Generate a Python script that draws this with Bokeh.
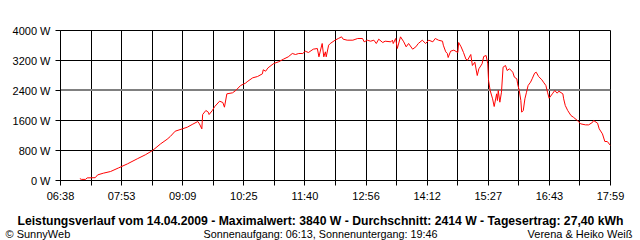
from bokeh.plotting import figure
from bokeh.layouts import column
from bokeh.models import FixedTicker, CustomJSTickFormatter, Span, Range1d
from bokeh.core.properties import value
from bokeh.embed import file_html
from bokeh.resources import INLINE

# ---- data (minutes after midnight, power in W) ----
minutes = [422, 424, 429, 431, 441, 444, 451, 460, 470, 481, 493, 503, 512, 522, 530, 534,
           540, 549, 555, 561, 568, 570, 573, 574, 578, 581, 582, 586, 589, 595, 599, 601,
           604, 611, 615, 621, 627, 630, 636, 642, 648, 649, 652, 655, 662, 668, 674, 680,
           685, 689, 693, 698, 701, 705, 711, 716, 718, 720, 722, 724, 726, 727, 730, 732,
           738, 742, 746, 748, 753, 760, 766, 772, 774, 778, 782, 786, 789, 792, 797, 800,
           807, 809, 810, 813, 815, 819, 823, 826, 829, 834, 838, 841, 846, 850, 854, 859,
           862, 866, 871, 872, 875, 877, 878, 881, 885, 890, 891, 894, 897, 900, 902, 906,
           908, 911, 914, 916, 920, 922, 925, 927, 928, 930, 933, 935, 938, 939, 940, 942,
           944, 946, 949, 951, 954, 958, 960, 963, 964, 966, 968, 969, 971, 973, 975, 977,
           980, 982, 985, 987, 990, 994, 996, 999, 1001, 1003, 1007, 1010, 1013, 1015, 1020,
           1021, 1023, 1026, 1030, 1033, 1038, 1042, 1048, 1052, 1057, 1058, 1063, 1065,
           1069, 1072, 1075, 1079]
power = [50, 30, 30, 70, 75, 150, 195, 240, 337, 445, 578, 685, 800, 978, 1100, 1175,
         1315, 1378, 1422, 1493, 1573, 1511, 1378, 1760, 1867, 1822, 1760, 1867, 1973, 2115, 2080, 1955,
         2311, 2338, 2400, 2533, 2595, 2648, 2738, 2773, 2845, 2952, 2915, 3005, 3120, 3165, 3235, 3298,
         3387, 3360, 3387, 3387, 3448, 3413, 3502, 3520, 3298, 3480, 3653, 3298, 3431, 3298, 3608, 3653,
         3742, 3787, 3831, 3768, 3742, 3742, 3787, 3787, 3698, 3740, 3715, 3742, 3653, 3768, 3680, 3715,
         3698, 3742, 3653, 3787, 3520, 3831, 3698, 3565, 3653, 3502, 3565, 3653, 3742, 3653, 3742, 3698,
         3787, 3742, 3715, 3608, 3431, 3387, 3280, 3448, 3476, 3413, 3680, 3565, 3413, 3235, 3209, 3360,
         3067, 3155, 2800, 2978, 3111, 3307, 3333, 3111, 2667, 2400, 2178, 1973, 2311, 2133, 2400, 2088,
         2355, 3022, 3067, 2933, 2978, 2888, 2755, 2712, 2578, 2400, 2133, 1822, 1867, 2178, 2355, 2533,
         2622, 2712, 2861, 2888, 2773, 2685, 2622, 2533, 2355, 2195, 2311, 2400, 2329, 2382, 2311,
         2178, 2000, 1867, 1733, 1688, 1600, 1511, 1484, 1484, 1555, 1600, 1529, 1378,
         1244, 1040, 1040, 933]

x_labels = ["06:38", "07:53", "09:09", "10:25", "11:40", "12:56", "14:12", "15:27", "16:43", "17:59"]
y_ticks = [0, 800, 1600, 2400, 3200, 4000]
y_labels = ["0 W", "800 W", "1600 W", "2400 W", "3200 W", "4000 W"]
average_w = 2414

title_text = ("Leistungsverlauf vom 14.04.2009 - Maximalwert: 3840 W - "
              "Durchschnitt: 2414 W - Tagesertrag: 27,40 kWh")
left_text = "\u00a9 SunnyWeb"
mid_text = "Sonnenaufgang: 06:13, Sonnenuntergang: 19:46"
right_text = "Verena & Heiko Wei\u00df"

# ---- derived axis geometry ----
def hm(s):
    h, m = s.split(":")
    return int(h) * 60 + int(m)

X_START = hm(x_labels[0])
X_END = hm(x_labels[-1])
n_major = len(x_labels) - 1
major_step = (X_END - X_START) / n_major
major_ticks = [X_START + i * major_step for i in range(n_major + 1)]
minor_ticks = [X_START + (i + 0.5) * major_step for i in range(n_major)]
Y_MAX = y_ticks[-1]

FONT = "Liberation Sans"
MAIN_H = 205
FOOT_H = 240 - MAIN_H

p = figure(width=640, height=MAIN_H, output_backend="svg", toolbar_location=None,
           x_range=Range1d(X_START, X_END), y_range=Range1d(0, Y_MAX),
           min_border_left=60, min_border_right=30, min_border_top=30,
           min_border_bottom=MAIN_H - 180,
           background_fill_color="white", border_fill_color="white")
p.frame_align = False
p.outline_line_color = "black"
p.outline_line_width = 1

# grids
p.xgrid.ticker = FixedTicker(ticks=sorted(major_ticks + minor_ticks))
p.xgrid.grid_line_color = "black"
p.ygrid.ticker = FixedTicker(ticks=y_ticks)
p.ygrid.grid_line_color = "black"

# x axis
xa = p.xaxis[0]
xa.ticker = FixedTicker(ticks=major_ticks, minor_ticks=minor_ticks)
xa.formatter = CustomJSTickFormatter(
    args=dict(labels=x_labels, start=X_START, step=major_step),
    code="const i = Math.round((tick - start) / step); return (i >= 0 && i < labels.length) ? labels[i] : '';")
xa.major_tick_out = 5
xa.major_tick_in = 0
xa.minor_tick_out = 5
xa.minor_tick_in = 0
xa.minor_tick_line_color = "black"
xa.major_tick_line_color = "black"
xa.axis_line_color = "black"
xa.major_label_standoff = 4
xa.major_label_text_font = FONT
xa.major_label_text_font_size = "11px"
xa.major_label_text_color = "black"

# y axis
ya = p.yaxis[0]
ya.ticker = FixedTicker(ticks=y_ticks)
ya.major_label_overrides = {t: l for t, l in zip(y_ticks, y_labels)}
ya.major_tick_out = 5
ya.major_tick_in = 0
ya.minor_tick_line_color = None
ya.major_tick_line_color = "black"
ya.axis_line_color = "black"
ya.major_label_standoff = 5
ya.major_label_text_font = FONT
ya.major_label_text_font_size = "11px"
ya.major_label_text_color = "black"

# average line
p.add_layout(Span(location=average_w, dimension="width", line_color="#808080",
                  line_width=2, level="underlay"))

# power curve
p.line(minutes, power, line_color="#ff0000", line_width=1)

# ---- footer figure holding the caption texts (data units = page pixels) ----
f = figure(width=640, height=FOOT_H, output_backend="svg", toolbar_location=None,
           x_range=Range1d(0, 640), y_range=Range1d(240, MAIN_H),
           min_border=0, x_axis_location=None, y_axis_location=None,
           background_fill_color="white", border_fill_color="white")
f.frame_align = False
f.outline_line_color = None
f.xgrid.visible = False
f.ygrid.visible = False

def add_text(x, y, text, align, size="11px", style="normal"):
    f.text(x=[x], y=[y], text=[text], text_align=align, text_baseline="alphabetic",
           text_font=value(FONT), text_font_size=size, text_font_style=style,
           text_color="black")

add_text(320, 220.5, title_text, "center", size="12.2px", style="bold")
add_text(5, 233, left_text, "left")
add_text(320, 233, mid_text, "center", size="10.8px")
add_text(632, 233, right_text, "right")

layout = column(p, f, spacing=0)
open("out.html", "w").write(file_html(layout, INLINE))
